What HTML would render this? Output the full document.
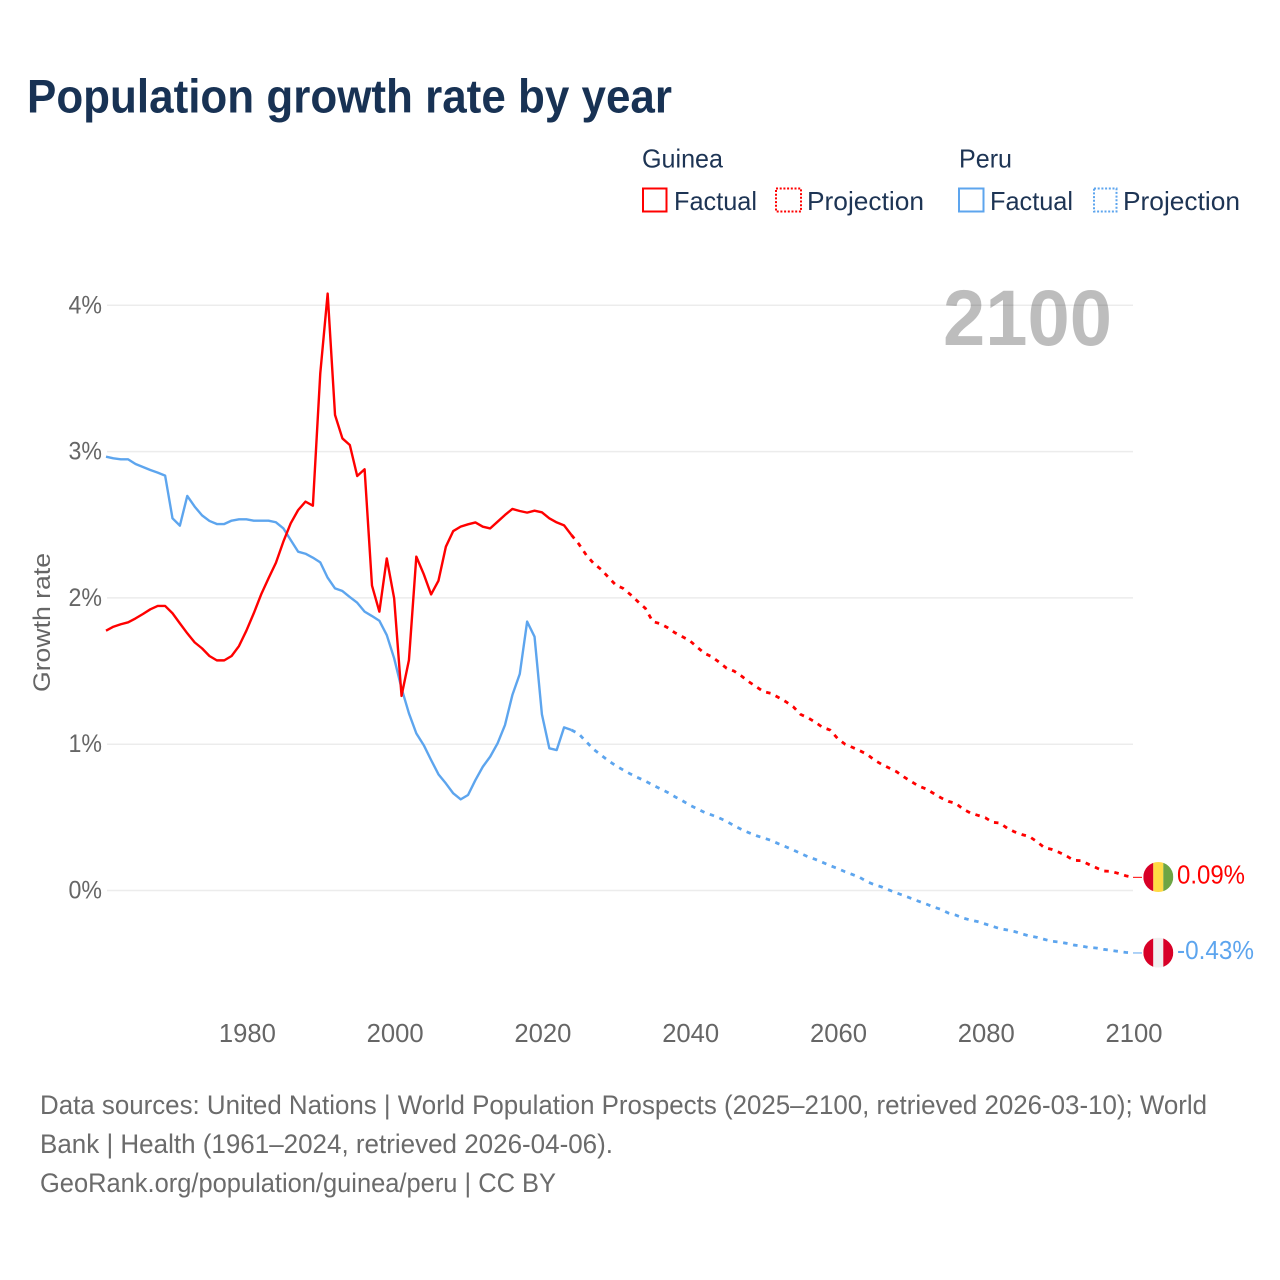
<!DOCTYPE html>
<html lang="en">
<head>
<meta charset="utf-8">
<title>Population growth rate by year</title>
<style>
html,body{margin:0;padding:0;background:#fff;width:1280px;height:1280px;overflow:hidden}
svg{display:block}
text{font-family:"Liberation Sans",sans-serif}
</style>
</head>
<body>
<svg id="chart" xmlns="http://www.w3.org/2000/svg" width="1280" height="1280" viewBox="0 0 1280 1280">
  <rect width="1280" height="1280" fill="#fff"/>
  <text x="27" y="112.500" font-size="47" font-weight="700" fill="#183254" textLength="645" lengthAdjust="spacingAndGlyphs">Population growth rate by year</text>

  <g font-size="26" fill="#1d3454">
    <text x="642" y="167.500" textLength="81" lengthAdjust="spacingAndGlyphs">Guinea</text>
    <text x="959" y="167.500" textLength="53" lengthAdjust="spacingAndGlyphs">Peru</text>
    <g>
      <rect x="643" y="188.500" width="23.500" height="23" fill="none" stroke="#ff0000" stroke-width="2"/>
      <text x="674" y="210" textLength="83" lengthAdjust="spacingAndGlyphs">Factual</text>
    </g>
    <g>
      <rect x="776" y="188.500" width="25" height="23" fill="none" stroke="#ff0000" stroke-width="2" stroke-dasharray="2 1.700"/>
      <text x="807" y="210" textLength="117" lengthAdjust="spacingAndGlyphs">Projection</text>
    </g>
    <g>
      <rect x="959" y="188.500" width="24.500" height="23" fill="none" stroke="#5da5ee" stroke-width="2"/>
      <text x="990" y="210" textLength="83" lengthAdjust="spacingAndGlyphs">Factual</text>
    </g>
    <g>
      <rect x="1094" y="188.500" width="22.500" height="23" fill="none" stroke="#5da5ee" stroke-width="2" stroke-dasharray="2 1.700"/>
      <text x="1123" y="210" textLength="117" lengthAdjust="spacingAndGlyphs">Projection</text>
    </g>
  </g>

  <text transform="translate(50 622.500) rotate(-90)" font-size="24" fill="#666" text-anchor="middle" textLength="139" lengthAdjust="spacingAndGlyphs">Growth rate</text>

  <g id="grid"></g>
  <text x="1112" y="345" font-size="79" font-weight="700" fill="#000" fill-opacity="0.26" text-anchor="end" textLength="169" lengthAdjust="spacingAndGlyphs">2100</text>
  <g id="yticks"></g>
  <g id="xticks"></g>
  <g id="series"></g>

  <g id="flagGuinea">
    <clipPath id="clipG"><circle cx="0" cy="0" r="15"/></clipPath>
    <g clip-path="url(#clipG)">
      <rect x="-15" y="-15" width="10" height="30" fill="#d80027"/>
      <rect x="-5" y="-15" width="10" height="30" fill="#ffda44"/>
      <rect x="5" y="-15" width="10" height="30" fill="#6da544"/>
    </g>
  </g>
  <g id="flagPeru">
    <clipPath id="clipP"><circle cx="0" cy="0" r="15"/></clipPath>
    <g clip-path="url(#clipP)">
      <rect x="-15" y="-15" width="10" height="30" fill="#d80027"/>
      <rect x="-5" y="-15" width="10" height="30" fill="#f0f0f0"/>
      <rect x="5" y="-15" width="10" height="30" fill="#d80027"/>
    </g>
  </g>
  <text id="labelGuinea" x="1177" font-size="26" fill="#ff0000" textLength="68" lengthAdjust="spacingAndGlyphs">0.09%</text>
  <text id="labelPeru" x="1177" font-size="26" fill="#5da5ee" textLength="77" lengthAdjust="spacingAndGlyphs">-0.43%</text>

  <g font-size="26.500" fill="#6b6b6b">
    <text x="40" y="1114" textLength="1167" lengthAdjust="spacingAndGlyphs">Data sources: United Nations | World Population Prospects (2025–2100, retrieved 2026-03-10); World</text>
    <text x="40" y="1153" textLength="573" lengthAdjust="spacingAndGlyphs">Bank | Health (1961–2024, retrieved 2026-04-06).</text>
    <text x="40" y="1192" textLength="516" lengthAdjust="spacingAndGlyphs">GeoRank.org/population/guinea/peru | CC BY</text>
  </g>
</svg>
<script>
const xTickYears = [1980, 2000, 2020, 2040, 2060, 2080, 2100];
const yTickValues = [0, 1, 2, 3, 4];
const yTickLabels = ['0%', '1%', '2%', '3%', '4%'];
const factualStartYear = 1961;
const projectionStartYear = 2024;

const guineaFactual = [
  1.776,1.803,1.82,1.833,1.86,1.89,1.922,1.945,1.945,1.895,
  1.826,1.758,1.696,1.655,1.603,1.573,1.573,1.603,1.671,1.776,
  1.895,2.024,2.134,2.24,2.384,2.51,2.60,2.658,2.63,3.535,
  4.08,3.25,3.09,3.045,2.833,2.879,2.084,1.906,2.27,1.997,
  1.33,1.575,2.282,2.163,2.024,2.118,2.35,2.457,2.487,2.503,
  2.516,2.487,2.475,2.521,2.567,2.608,2.594,2.583,2.596,2.585,
  2.544,2.516,2.496,2.43];

const peruFactual = [
  2.965,2.954,2.947,2.947,2.915,2.895,2.874,2.856,2.836,2.544,
  2.494,2.697,2.624,2.564,2.526,2.505,2.505,2.528,2.537,2.537,
  2.528,2.528,2.528,2.517,2.476,2.396,2.316,2.302,2.275,2.243,
  2.138,2.065,2.047,2.006,1.967,1.906,1.876,1.844,1.746,1.587,
  1.382,1.211,1.074,0.994,0.892,0.794,0.732,0.664,0.623,0.653,
  0.755,0.846,0.915,1.006,1.131,1.336,1.48,1.838,1.735,1.204,
  0.972,0.96,1.115,1.097];

const guineaProjection = [
  2.43,2.368,2.293,2.236,2.195,2.141,2.088,2.065,2.022,1.974,1.929,
  1.838,1.824,1.797,1.762,1.735,1.708,1.664,1.621,1.598,1.56,
  1.519,1.50,1.466,1.427,1.393,1.359,1.348,1.32,1.291,1.257,
  1.204,1.181,1.15,1.115,1.097,1.04,1.001,0.979,0.956,0.931,
  0.892,0.862,0.837,0.812,0.776,0.744,0.714,0.694,0.664,0.634,
  0.609,0.596,0.557,0.53,0.514,0.498,0.466,0.461,0.425,0.40,
  0.382,0.368,0.334,0.293,0.281,0.261,0.236,0.206,0.204,0.179,
  0.156,0.133,0.131,0.117,0.101,0.09];

const peruProjection = [
  1.097,1.07,1.017,0.965,0.926,0.887,0.853,0.824,0.796,0.771,0.748,
  0.721,0.696,0.671,0.641,0.614,0.584,0.559,0.534,0.516,0.496,
  0.473,0.443,0.418,0.395,0.375,0.359,0.343,0.32,0.299,0.277,
  0.254,0.231,0.213,0.192,0.17,0.151,0.129,0.11,0.09,0.06,
  0.04,0.024,0.003,-0.017,-0.035,-0.054,-0.074,-0.092,-0.113,-0.129,
  -0.154,-0.168,-0.188,-0.202,-0.213,-0.229,-0.245,-0.261,-0.27,-0.281,
  -0.297,-0.311,-0.32,-0.334,-0.347,-0.352,-0.361,-0.373,-0.379,-0.389,
  -0.393,-0.402,-0.409,-0.416,-0.423,-0.427];

const NS = 'http://www.w3.org/2000/svg';
const xLeft = 106, xRight = 1133, yearMin = 1961, yearMax = 2100;
const yZero = 890.5, yPerUnit = 146.3;
function xScale(year) { return xLeft + (xRight - xLeft) * (year - yearMin) / (yearMax - yearMin); }
function yScale(value) { return yZero - value * yPerUnit; }
function pathFrom(values, startYear) {
  return values.map(function (v, i) {
    return (i ? 'L' : 'M') + xScale(startYear + i).toFixed(2) + ' ' + yScale(v).toFixed(2);
  }).join(' ');
}

const grid = document.getElementById('grid');
const yticks = document.getElementById('yticks');
const xticks = document.getElementById('xticks');
const seriesGroup = document.getElementById('series');

yTickValues.forEach(function (v, i) {
  const line = document.createElementNS(NS, 'line');
  
  
  line.setAttribute('x1', xLeft + 1);
  line.setAttribute('x2', xRight);
  line.setAttribute('y1', yScale(v));
  line.setAttribute('y2', yScale(v));
  line.setAttribute('stroke', '#ececec');
  line.setAttribute('stroke-width', '1.5');
  grid.appendChild(line);

  const t = document.createElementNS(NS, 'text');
  
  
  t.setAttribute('x', 102);
  t.setAttribute('y', yScale(v) + 8);
  t.setAttribute('text-anchor', 'end');
  t.setAttribute('font-size', '25');
  t.setAttribute('fill', '#666');
  t.setAttribute('textLength', '33.5');
  t.setAttribute('lengthAdjust', 'spacingAndGlyphs');
  t.textContent = yTickLabels[i];
  yticks.appendChild(t);
});

xTickYears.forEach(function (year) {
  const t = document.createElementNS(NS, 'text');
  
  
  t.setAttribute('x', xScale(year) + 1);
  t.setAttribute('y', 1042);
  t.setAttribute('text-anchor', 'middle');
  t.setAttribute('font-size', '26');
  t.setAttribute('fill', '#666');
  t.setAttribute('textLength', '57');
  t.setAttribute('lengthAdjust', 'spacingAndGlyphs');
  t.textContent = String(year);
  xticks.appendChild(t);
});

function addLine(values, startYear, color, dashed, name) {
  const p = document.createElementNS(NS, 'path');
  
  
  p.setAttribute('d', pathFrom(values, startYear));
  p.setAttribute('fill', 'none');
  p.setAttribute('stroke', color);
  p.setAttribute('stroke-width', dashed ? '2.8' : '2.4');
  p.setAttribute('stroke-linejoin', 'round');
  if (dashed) p.setAttribute('stroke-dasharray', '4.5 5.7');
  seriesGroup.appendChild(p);
}
addLine(peruFactual, factualStartYear, '#5da5ee', false, 'peru-factual-line');
addLine(peruProjection, projectionStartYear, '#5da5ee', true, 'peru-projection-line');
addLine(guineaFactual, factualStartYear, '#ff0000', false, 'guinea-factual-line');
addLine(guineaProjection, projectionStartYear, '#ff0000', true, 'guinea-projection-line');

function addEnd(values, color, flagId, labelId, name) {
  const last = values[values.length - 1];
  const y = yScale(last);
  const c = document.createElementNS(NS, 'line');
  
  
  c.setAttribute('x1', xRight);
  c.setAttribute('x2', 1142);
  c.setAttribute('y1', y);
  c.setAttribute('y2', y);
  c.setAttribute('stroke', color);
  c.setAttribute('stroke-width', '1');
  seriesGroup.appendChild(c);
  document.getElementById(flagId).setAttribute('transform', 'translate(1158.300 ' + (y - 0.3) + ')');
  document.getElementById(labelId).setAttribute('y', y + 6);
}
addEnd(guineaProjection, '#ff0000', 'flagGuinea', 'labelGuinea', 'guinea-end-connector');
addEnd(peruProjection, '#5da5ee', 'flagPeru', 'labelPeru', 'peru-end-connector');
</script>
</body>
</html>
